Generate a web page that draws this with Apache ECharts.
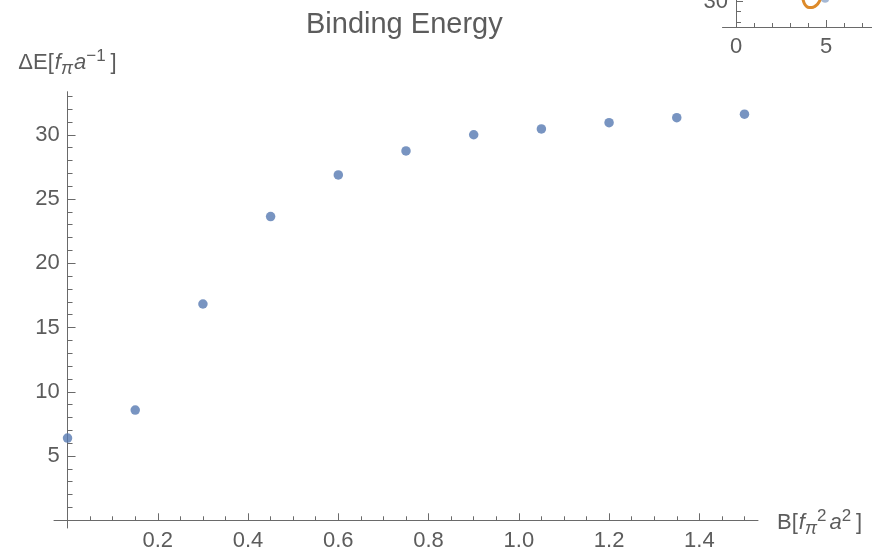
<!DOCTYPE html>
<html>
<head>
<meta charset="utf-8">
<script src="https://cdn.jsdelivr.net/npm/echarts@6/dist/echarts.min.js"></script>
<style>
  html, body { margin: 0; padding: 0; background: #ffffff; }
  #chart { width: 872px; height: 551px; }
</style>
</head>
<body>
<div id="chart"></div>
<script>
// Binding energy vs. field strength
const bField = [0, 0.15, 0.30, 0.45, 0.60, 0.75, 0.90, 1.05, 1.20, 1.35, 1.50];
const deltaE = [6.40, 8.58, 16.83, 23.63, 26.87, 28.74, 30.00, 30.45, 30.94, 31.33, 31.60];

// tick positions of the main axes
const xMajorTicks = [0.2, 0.4, 0.6, 0.8, 1.0, 1.2, 1.4];
const xMinorTicks = [0.05, 0.10, 0.15, 0.25, 0.30, 0.35, 0.45, 0.50, 0.55, 0.65, 0.70, 0.75,
                     0.85, 0.90, 0.95, 1.05, 1.10, 1.15, 1.25, 1.30, 1.35, 1.45, 1.50];
const yMajorTicks = [5, 10, 15, 20, 25, 30];
const yMinorTicks = [1, 2, 3, 4, 6, 7, 8, 9, 11, 12, 13, 14, 16, 17, 18, 19,
                     21, 22, 23, 24, 26, 27, 28, 29, 31, 32, 33];

// neighbouring panel, only its lower-left corner shows
const insetCurveX = [3.72, 3.80, 3.92, 4.06, 4.22, 4.38, 4.52, 4.62, 4.70];
const insetCurveY = [30.5, 29.6, 29.05, 28.85, 28.85, 29.05, 29.45, 29.95, 30.5];
const insetPointX = [4.95];
const insetPointY = [30.55];
const insetXMajorTicks = [0, 5];
const insetXMinorTicks = [1, 2, 3, 4, 6, 7];
const insetYMajorTicks = [30];
const insetYMinorTicks = [26, 28];

const FONT = '"Liberation Sans", Arial, sans-serif';
const TEXT = '#5c5c5c';
const AXIS = '#6a6a6a';
const BLUE = '#5679B2';
const ORANGE = '#DD8A2A';

const zip = (xs, ys) => xs.map((x, i) => [x, ys[i]]);

const nameRich = {
  n:   { fontFamily: FONT, fontSize: 22, color: TEXT, lineHeight: 30, verticalAlign: 'middle' },
  i:   { fontFamily: FONT, fontSize: 22, color: TEXT, lineHeight: 30, verticalAlign: 'middle', fontStyle: 'italic', padding: [0, 0, 0, 1] },
  sub: { fontFamily: FONT, fontSize: 18, color: TEXT, lineHeight: 16, verticalAlign: 'bottom', fontStyle: 'italic' },
  sup: { fontFamily: FONT, fontSize: 17, color: TEXT, lineHeight: 16, verticalAlign: 'top', padding: [0, 2, 0, 0] },
  end: { fontFamily: FONT, fontSize: 22, color: TEXT, lineHeight: 30, verticalAlign: 'middle', padding: [0, 0, 0, 3] }
};

const lineStyle = { color: AXIS, width: 1 };

const chart = echarts.init(document.getElementById('chart'), null, { renderer: 'canvas' });

chart.setOption({
  animation: false,
  backgroundColor: '#ffffff',
  title: {
    text: 'Binding Energy',
    left: 306,
    top: 10,
    padding: 0,
    textStyle: { fontFamily: FONT, fontSize: 29, fontWeight: 'normal', color: TEXT }
  },
  grid: [
    { left: 54, top: 91.7, width: 704, height: 436.3, containLabel: false, outerBoundsMode: 'none' },
    { left: 722.5, top: -8.6, width: 150.3, height: 35.6, containLabel: false, outerBoundsMode: 'none' }
  ],
  xAxis: [
    {
      type: 'value', gridIndex: 0, min: -0.03, max: 1.53, position: 'bottom',
      axisLine: { show: true, onZero: true, lineStyle },
      axisTick: { show: true, inside: true, length: 7, customValues: xMajorTicks, lineStyle },
      axisLabel: {
        show: true, customValues: xMajorTicks, margin: 1.5,
        fontFamily: FONT, fontSize: 22, color: TEXT,
        formatter: v => v.toFixed(1)
      },
      splitLine: { show: false },
      name: '{n|B[}{i|f}{sub|π}{sup|2}{i|a}{sup|2}{end|]}',
      nameLocation: 'end',
      nameGap: 19,
      nameTextStyle: { rich: nameRich, padding: [6, 0, 0, 0] }
    },
    {
      type: 'value', gridIndex: 0, min: -0.03, max: 1.53, position: 'bottom',
      axisLine: { show: false, onZero: true },
      axisTick: { show: true, inside: true, length: 4, customValues: xMinorTicks, lineStyle },
      axisLabel: { show: false },
      splitLine: { show: false }
    },
    {
      type: 'value', gridIndex: 1, min: -0.75, max: 7.6, position: 'bottom',
      axisLine: { show: true, onZero: false, lineStyle },
      axisTick: { show: true, inside: true, length: 7, customValues: insetXMajorTicks.filter(v => v !== 0), lineStyle },
      axisLabel: {
        show: true, customValues: insetXMajorTicks, margin: 9,
        fontFamily: FONT, fontSize: 22, color: TEXT
      },
      splitLine: { show: false }
    },
    {
      type: 'value', gridIndex: 1, min: -0.75, max: 7.6, position: 'bottom',
      axisLine: { show: false, onZero: false },
      axisTick: { show: true, inside: true, length: 4, customValues: insetXMinorTicks, lineStyle },
      axisLabel: { show: false },
      splitLine: { show: false }
    }
  ],
  yAxis: [
    {
      type: 'value', gridIndex: 0, min: -0.6, max: 33.35, position: 'left',
      axisLine: { show: true, onZero: true, lineStyle },
      axisTick: { show: true, inside: true, length: 8, customValues: yMajorTicks, lineStyle },
      axisLabel: {
        show: true, customValues: yMajorTicks, margin: -5.7,
        fontFamily: FONT, fontSize: 22, color: TEXT
      },
      splitLine: { show: false },
      name: '{n|ΔE[}{i|f}{sub|π}{i|a}{sup|−1}{end|]}',
      nameLocation: 'end',
      nameGap: 14,
      nameTextStyle: { rich: nameRich }
    },
    {
      type: 'value', gridIndex: 0, min: -0.6, max: 33.35, position: 'left',
      axisLine: { show: false, onZero: true },
      axisTick: { show: true, inside: true, length: 5, customValues: yMinorTicks, lineStyle },
      axisLabel: { show: false },
      splitLine: { show: false }
    },
    {
      type: 'value', gridIndex: 1, min: 25, max: 32, position: 'left',
      axisLine: { show: true, onZero: true, lineStyle },
      axisTick: { show: true, inside: true, length: 7, customValues: insetYMajorTicks, lineStyle },
      axisLabel: {
        show: true, customValues: insetYMajorTicks, margin: -5.5,
        fontFamily: FONT, fontSize: 22, color: TEXT
      },
      splitLine: { show: false }
    },
    {
      type: 'value', gridIndex: 1, min: 25, max: 32, position: 'left',
      axisLine: { show: false, onZero: true },
      axisTick: { show: true, inside: true, length: 5, customValues: insetYMinorTicks, lineStyle },
      axisLabel: { show: false },
      splitLine: { show: false }
    }
  ],
  series: [
    {
      type: 'scatter', xAxisIndex: 0, yAxisIndex: 0,
      data: zip(bField, deltaE),
      symbol: 'circle', symbolSize: 9.5,
      itemStyle: { color: BLUE },
      clip: false, z: 5
    },
    {
      type: 'line', xAxisIndex: 2, yAxisIndex: 2,
      data: zip(insetCurveX, insetCurveY),
      smooth: true, showSymbol: false,
      lineStyle: { color: ORANGE, width: 3 },
      clip: false, z: 5
    },
    {
      type: 'scatter', xAxisIndex: 2, yAxisIndex: 2,
      data: zip(insetPointX, insetPointY),
      symbol: 'circle', symbolSize: 8,
      itemStyle: { color: '#8fa6c9' },
      clip: false, z: 5
    }
  ]
});
</script>
</body>
</html>
